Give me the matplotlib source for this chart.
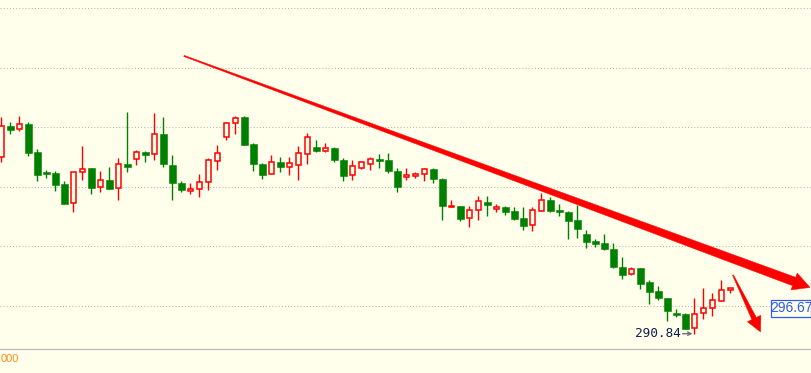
import matplotlib
matplotlib.use('Agg')
import matplotlib.pyplot as plt
from matplotlib.patches import Rectangle, Polygon
from matplotlib.transforms import IdentityTransform
import numpy as np

# ---------------- data ----------------
opens = [298.24, 299.54, 299.41, 299.63, 298.46, 297.62, 297.58, 297.12, 296.31, 297.61,
         297.79, 296.98, 297.29, 296.94, 297.96, 298.15, 298.46, 298.36, 299.22, 297.91,
         297.15, 296.84, 296.90, 297.19, 298.07, 299.08, 299.66, 299.93, 298.80, 297.96,
         297.52, 298.03, 297.84, 297.93, 298.36, 298.67, 298.51, 298.63, 298.12, 297.48,
         297.80, 297.97, 298.17, 298.12, 297.66, 297.40, 297.45, 297.52, 297.75, 297.33,
         296.15, 296.20, 295.68, 296.01, 296.36, 296.08, 296.15, 295.99, 295.69, 295.39,
         296.00, 296.45, 296.04, 295.94, 295.61, 295.03, 294.74, 294.64, 294.39, 293.64,
         293.36, 293.59, 293.02, 292.63, 292.34, 291.71, 291.66, 291.07, 291.69, 291.92,
         292.21, 292.67]
highs = [299.93, 299.73, 299.97, 299.72, 298.60, 297.71, 297.68, 297.24, 297.61, 298.71,
         297.79, 297.66, 297.84, 298.21, 300.15, 298.54, 298.50, 300.10, 299.93, 298.33,
         297.24, 297.16, 297.54, 298.21, 298.74, 299.73, 299.97, 299.97, 298.85, 298.00,
         298.33, 298.24, 298.25, 298.71, 299.26, 298.96, 298.83, 298.67, 298.21, 298.12,
         298.08, 298.24, 298.39, 298.42, 297.79, 297.79, 297.62, 297.79, 297.79, 297.37,
         296.45, 296.20, 296.20, 296.61, 296.61, 296.28, 296.20, 296.15, 296.15, 296.14,
         296.74, 296.56, 296.28, 296.00, 296.24, 295.18, 294.82, 295.02, 294.64, 294.06,
         293.64, 293.59, 293.08, 292.85, 292.34, 291.87, 291.71, 292.35, 292.76, 292.56,
         293.10, 292.76]
lows = [298.03, 299.23, 299.35, 298.31, 297.23, 297.38, 296.84, 296.27, 295.96, 297.30,
        296.71, 296.79, 296.92, 296.46, 297.63, 297.91, 298.05, 298.14, 297.84, 296.46,
        296.79, 296.71, 296.59, 296.88, 297.72, 298.98, 299.23, 298.77, 297.68, 297.34,
        297.52, 297.63, 297.50, 297.30, 297.97, 298.47, 298.47, 298.03, 297.26, 297.27,
        297.76, 297.72, 297.80, 297.59, 296.79, 297.29, 297.36, 297.26, 297.17, 295.61,
        296.14, 295.58, 295.33, 295.61, 295.79, 295.94, 295.82, 295.60, 295.19, 295.13,
        296.00, 295.94, 295.78, 294.81, 294.87, 294.45, 294.49, 294.34, 293.59, 293.13,
        293.30, 292.73, 292.08, 292.25, 291.38, 291.55, 291.04, 290.84, 291.44, 291.58,
        292.21, 292.56]
closes = [299.54, 299.40, 299.62, 298.43, 297.51, 297.55, 297.09, 296.29, 297.61, 297.73,
          296.96, 297.27, 296.92, 297.94, 297.84, 298.45, 298.35, 299.20, 297.97, 297.17,
          296.85, 296.90, 297.19, 298.11, 298.41, 299.66, 299.87, 298.77, 297.97, 297.51,
          298.03, 297.84, 297.99, 298.41, 299.08, 298.51, 298.62, 298.14, 297.47, 297.86,
          298.04, 298.15, 298.10, 297.68, 297.00, 297.48, 297.54, 297.73, 297.31, 296.21,
          296.20, 295.66, 296.01, 296.39, 296.25, 296.14, 295.96, 295.66, 295.34, 296.03,
          296.43, 296.00, 295.96, 295.58, 295.23, 294.68, 294.60, 294.40, 293.62, 293.31,
          293.55, 292.94, 292.60, 292.32, 291.79, 291.62, 291.05, 291.66, 291.93, 292.24,
          292.68, 292.74]

grid_levels = [292.0, 294.5, 297.0, 299.5, 302.0, 304.5]
low_label = "290.84"
low_value = 290.84
low_index = 77
last_label = "296.67"
bottom_label = "000"

# trend line drawn on the chart: (bar index, price)
trend_start = (20.30, 302.49)
trend_tip = (89.86, 292.78)
down_start = (81.30, 293.30)
down_tip = (84.37, 290.91)

# ---------------- styling ----------------
BG = '#FFFFEC'
RED = '#FF0000'
GREEN = '#008000'
GRID = '#B4B4B4'

W, H = 812, 373
fig = plt.figure(figsize=(W / 100, H / 100), dpi=100)
fig.patch.set_facecolor(BG)
ax = fig.add_axes([0, 24 / H, 1, 349 / H])
ax.set_facecolor(BG)
ax.set_xlim(-0.144, 90.078)
ax.set_ylim(290.197, 304.836)
for s in ['top', 'left', 'right']:
    ax.spines[s].set_visible(False)
ax.spines['bottom'].set_color('#BDBDBD')
ax.spines['bottom'].set_linewidth(1.0)
ax.set_xticks([])
ax.set_yticks([])

for g in grid_levels:
    ax.axhline(g, color=GRID, lw=0.75, ls=(0, (1, 2)), zorder=0)

for i, (o, h, l, c) in enumerate(zip(opens, highs, lows, closes)):
    up = c >= o
    col = RED if up else GREEN
    ax.vlines(i, l, h, color=col, lw=1.0, zorder=2)
    bottom = min(o, c)
    height = max(abs(c - o), 0.015)
    if up:
        ax.add_patch(Rectangle((i - 0.31, bottom), 0.62, height, facecolor=BG,
                               edgecolor=RED, lw=1.1, zorder=3))
    else:
        ax.add_patch(Rectangle((i - 0.36, bottom), 0.72, height, facecolor=GREEN,
                               edgecolor=GREEN, lw=0.4, zorder=3))


def tapered_arrow(start, tip, w0, w1, head_w, head_len, color):
    p0 = ax.transData.transform(start)
    p1 = ax.transData.transform(tip)
    d = p1 - p0
    u = d / np.hypot(*d)
    n = np.array([-u[1], u[0]])
    base = p1 - u * head_len
    pts = [p0 + n * w0 / 2, base + n * w1 / 2, base + n * head_w / 2, p1,
           base - n * head_w / 2, base - n * w1 / 2, p0 - n * w0 / 2]
    poly = Polygon(pts, closed=True, transform=IdentityTransform(),
                   facecolor=color, edgecolor=color, lw=0.3, zorder=5)
    fig.add_artist(poly)


tapered_arrow(trend_start, trend_tip, 1.2, 9.0, 18.0, 17.0, RED)
tapered_arrow(down_start, down_tip, 1.0, 5.0, 15.0, 15.0, RED)

# low annotation
ax.text(low_index - 1.55, low_value, low_label, ha='right', va='center',
        color='#0E1E4E', fontsize=9.2, family='DejaVu Sans Mono', zorder=6)
ax.annotate('', xy=(low_index - 0.2, low_value), xytext=(low_index - 1.3, low_value),
            arrowprops=dict(arrowstyle='->', color='#707070', lw=1.0,
                            mutation_scale=6, shrinkA=0, shrinkB=0), zorder=6)

# last price tag
x0, x1 = 771 / W, 811 / W
y0, y1 = (349 - 317) / 349, (349 - 300) / 349
ax.add_patch(Rectangle((x0, y0), x1 - x0, y1 - y0, transform=ax.transAxes,
                       facecolor=BG, edgecolor='#2F5BEA', lw=0.9, zorder=6,
                       clip_on=False))
ax.text((x0 + x1) / 2 + 0.001, (y0 + y1) / 2, last_label, transform=ax.transAxes,
        ha='center', va='center', color='#2F5BEA', fontsize=10,
        family=['Liberation Sans', 'DejaVu Sans'], zorder=7)

fig.text(0.5 / W, 1 - 359.5 / H, bottom_label, ha='left', va='center',
         color='#FF8C1A', fontsize=8, family=['Liberation Sans', 'DejaVu Sans'])

fig.savefig('out.png', dpi=100, facecolor=BG)
